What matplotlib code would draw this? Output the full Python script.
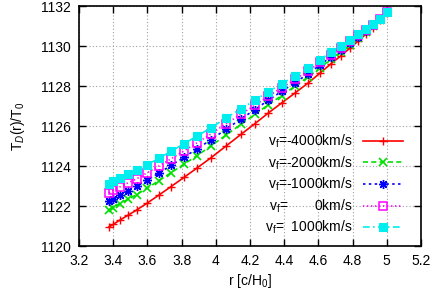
import matplotlib
matplotlib.use("Agg")
import matplotlib.pyplot as plt

plt.rcParams['font.family'] = ['Liberation Sans', 'DejaVu Sans']
plt.rcParams['mathtext.fontset'] = 'custom'
plt.rcParams['mathtext.rm'] = 'Liberation Sans'
plt.rcParams['mathtext.it'] = 'Liberation Sans:italic'

r = [3.375, 3.40, 3.44, 3.485, 3.537, 3.596, 3.668, 3.738, 3.814, 3.89, 3.97,
     4.06, 4.147, 4.229, 4.307, 4.385, 4.463, 4.54, 4.61, 4.672, 4.73, 4.785,
     4.833, 4.878, 4.92, 4.962, 5.0]

t_m4000 = [1120.95, 1121.08, 1121.30, 1121.53, 1121.80, 1122.13, 1122.55, 1122.97,
           1123.43, 1123.90, 1124.40, 1125.00, 1125.58, 1126.12, 1126.65, 1127.15,
           1127.65, 1128.15, 1128.65, 1129.10, 1129.50, 1129.90, 1130.25, 1130.60,
           1130.92, 1131.28, 1131.66]
t_m2000 = [1121.80, 1121.92, 1122.12, 1122.33, 1122.57, 1122.88, 1123.27, 1123.66,
           1124.09, 1124.52, 1124.99, 1125.55, 1126.08, 1126.58, 1127.06, 1127.52,
           1127.99, 1128.45, 1128.91, 1129.33, 1129.70, 1130.06, 1130.39, 1130.71,
           1130.99, 1131.32, 1131.68]
t_m1000 = [1122.25, 1122.37, 1122.56, 1122.76, 1122.99, 1123.28, 1123.65, 1124.03,
           1124.44, 1124.86, 1125.30, 1125.84, 1126.35, 1126.82, 1127.29, 1127.73,
           1128.17, 1128.61, 1129.05, 1129.45, 1129.80, 1130.15, 1130.46, 1130.76,
           1131.03, 1131.33, 1131.68]
t_0 = [1122.66, 1122.78, 1122.96, 1123.15, 1123.36, 1123.65, 1124.00, 1124.36,
       1124.76, 1125.16, 1125.59, 1126.11, 1126.59, 1127.04, 1127.49, 1127.91,
       1128.33, 1128.75, 1129.18, 1129.56, 1129.90, 1130.23, 1130.53, 1130.81,
       1131.07, 1131.35, 1131.69]
t_p1000 = [1123.12, 1123.23, 1123.40, 1123.58, 1123.78, 1124.05, 1124.39, 1124.73,
           1125.11, 1125.50, 1125.90, 1126.40, 1126.86, 1127.29, 1127.71, 1128.11,
           1128.51, 1128.91, 1129.32, 1129.68, 1130.00, 1130.32, 1130.60, 1130.87,
           1131.11, 1131.37, 1131.70]

labels = [r"v$_\mathrm{f}$=-4000km/s", r"v$_\mathrm{f}$=-2000km/s",
          r"v$_\mathrm{f}$=-1000km/s", r"v$_\mathrm{f}$=       0km/s",
          r"v$_\mathrm{f}$=  1000km/s"]

xticks = [3.2, 3.4, 3.6, 3.8, 4.0, 4.2, 4.4, 4.6, 4.8, 5.0, 5.2]
xticklabels = ["3.2", "3.4", "3.6", "3.8", "4", "4.2", "4.4", "4.6", "4.8", "5", "5.2"]
yticks = [1120, 1122, 1124, 1126, 1128, 1130, 1132]

fig = plt.figure(figsize=(4.34, 2.92), dpi=100)
ax = fig.add_axes([79/434, 1-246/292, 342/434, 240/292])

ax.plot(r, t_m4000, color='#ff0000', lw=1.2, ls='-', marker='+', ms=6, mew=1.0, label=labels[0])
ax.plot(r, t_m2000, color='#00e000', lw=1.2, ls=(0, (3, 2)), marker='x', ms=5.5, mew=1.2, label=labels[1])
ax.plot(r, t_m1000, color='#0000ff', lw=1.2, ls=(0, (1.5, 2)), marker=(8, 2, 0), ms=6.5, mew=1.0, label=labels[2])
ax.plot(r, t_0, color='#ff00ff', lw=1.2, ls=(0, (0.8, 1.6)), marker='s', ms=5.5, mew=1.1,
        mfc='none', label=labels[3])
ax.plot(r, t_p1000, color='#00eeee', lw=1.2, ls=(0, (4, 2, 1, 2)), marker='s', ms=5.5, mew=0.8,
        label=labels[4])

ax.set_xlim(3.2, 5.2)
ax.set_ylim(1120, 1132)
ax.set_xticks(xticks)
ax.set_xticklabels(xticklabels)
ax.set_yticks(yticks)
ax.tick_params(direction='in', length=5, width=1, top=True, right=True,
               labelsize=10, pad=6)
ax.grid(True, color='#a0a0a0', ls=(0, (1, 2)), lw=0.8)
for s in ax.spines.values():
    s.set_linewidth(1.2)

ax.set_xlabel(r"r [c/H$_0$]", fontsize=10, labelpad=3)
ax.set_ylabel(r"T$_D$(r)/T$_0$", fontsize=10, labelpad=10)

leg = ax.legend(loc='lower right', bbox_to_anchor=(0.947, 0.04), frameon=False,
                markerfirst=False, alignment='right', fontsize=10,
                handlelength=2.9, handletextpad=0.7, labelspacing=0.3,
                borderpad=0, borderaxespad=0)

fig.savefig("out.png", dpi=100)
